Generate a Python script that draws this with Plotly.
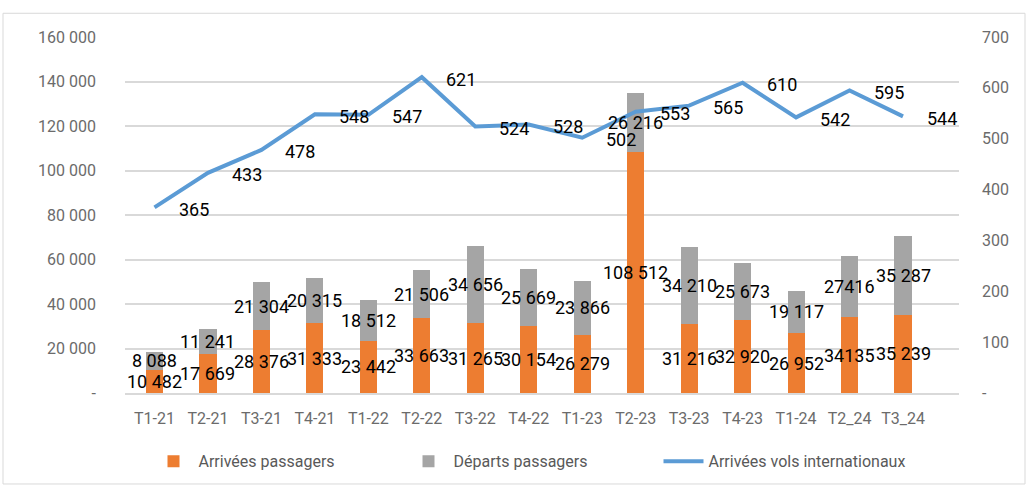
import plotly.graph_objects as go

categories = ["T1-21", "T2-21", "T3-21", "T4-21", "T1-22", "T2-22", "T3-22", "T4-22",
              "T1-23", "T2-23", "T3-23", "T4-23", "T1-24", "T2_24", "T3_24"]
arrivees = [10482, 17669, 28376, 31333, 23442, 33663, 31265, 30154,
            26279, 108512, 31216, 32920, 26952, 34135, 35239]
departs = [8088, 11241, 21304, 20315, 18512, 21506, 34656, 25669,
           23866, 26216, 34210, 25673, 19117, 27416, 35287]
vols = [365, 433, 478, 548, 547, 621, 524, 528, 502, 553, 565, 610, 542, 595, 544]

left_ticks = [0, 20000, 40000, 60000, 80000, 100000, 120000, 140000, 160000]
right_ticks = [0, 100, 200, 300, 400, 500, 600, 700]
no_sep_idx = {13}  # labels shown without thousands separator in the source

ORANGE = "#ED7D31"
GREY = "#A5A5A5"
BLUE = "#5B9BD5"
GRID = "#D9D9D9"
TICK = "#6b6b6b"
FONT = "Roboto"


def fmt(v, plain=False):
    if v == 0:
        return "-"
    if plain:
        return str(v)
    return f"{v:,}".replace(",", " ")


fig = go.Figure()
fig.add_trace(go.Bar(x=categories, y=arrivees, name="Arrivées passagers",
                     marker=dict(color=ORANGE, line=dict(width=0)), yaxis="y"))
fig.add_trace(go.Bar(x=categories, y=departs, name="Départs passagers",
                     marker=dict(color=GREY, line=dict(width=0)), yaxis="y"))
fig.add_trace(go.Scatter(x=categories, y=vols, name="Arrivées vols internationaux",
                         mode="lines", line=dict(color=BLUE, width=4), yaxis="y2"))

ann = []
for i, c in enumerate(categories):
    a, d = arrivees[i], departs[i]
    ann.append(dict(x=c, y=a / 2, xref="x", yref="y", text=fmt(a, i in no_sep_idx),
                    showarrow=False, font=dict(size=18, color="black", family=FONT)))
    ann.append(dict(x=c, y=a + d / 2, xref="x", yref="y", text=fmt(d, i in no_sep_idx),
                    showarrow=False, font=dict(size=18, color="black", family=FONT)))
    ann.append(dict(x=c, y=vols[i], xref="x", yref="y2", text=str(vols[i]),
                    showarrow=False, xanchor="left", xshift=22, yshift=-2,
                    font=dict(size=18, color="black", family=FONT)))

W, H = 1028, 490
L, R, T, B = 125, 69, 37, 93
pw, ph = W - L - R, H - T - B

fig.update_layout(
    width=W, height=H,
    margin=dict(l=L, r=R, t=T, b=B),
    paper_bgcolor="white", plot_bgcolor="white",
    barmode="stack", bargap=0.68,
    font=dict(family=FONT, size=16, color=TICK),
    showlegend=True,
    legend=dict(orientation="h", x=(531 - L) / pw, xanchor="center",
                y=(H - B - 466) / ph, yanchor="middle", entrywidth=200,
                itemwidth=40,
                font=dict(size=16, color="#595959"), traceorder="normal"),
    xaxis=dict(showgrid=False, showline=True, linecolor=GRID, linewidth=1.5,
               ticks="", ticklabelstandoff=10, tickfont=dict(size=16, color=TICK)),
    yaxis=dict(range=[0, 160000], tickvals=left_ticks, ticktext=[fmt(v) for v in left_ticks],
               showgrid=True, gridcolor=GRID, gridwidth=1.5, zeroline=False,
               showline=False, ticks="", ticklabelstandoff=28,
               tickfont=dict(size=16, color=TICK)),
    yaxis2=dict(range=[0, 700], tickvals=right_ticks, ticktext=[fmt(v) for v in right_ticks],
                overlaying="y", side="right", showgrid=False, zeroline=False,
                showline=False, ticks="", ticklabelstandoff=22,
                tickfont=dict(size=16, color=TICK)),
    annotations=ann,
    shapes=[dict(type="rect", xref="paper", yref="paper",
                 x0=(3 - L) / pw, x1=(1025 - L) / pw,
                 y0=(H - B - 489) / ph, y1=(H - B - 13) / ph,
                 line=dict(color=GRID, width=1), fillcolor="rgba(0,0,0,0)", layer="below")],
)

fig.write_html("out.html", config={"displayModeBar": False},
               post_script="document.body.style.margin='0';")
